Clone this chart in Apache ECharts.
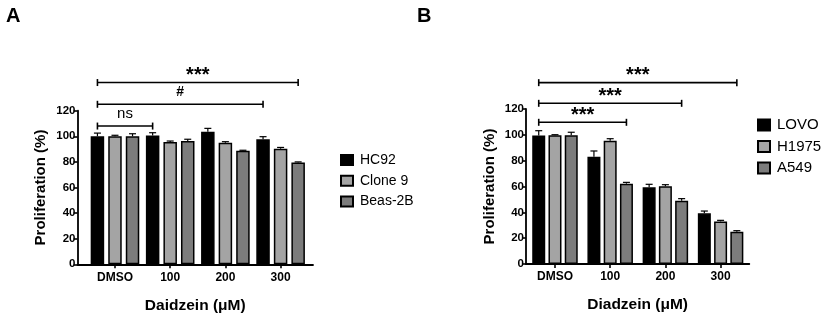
<!DOCTYPE html>
<html>
<head>
<meta charset="utf-8">
<script src="https://cdn.jsdelivr.net/npm/echarts@6/dist/echarts.min.js"></script>
<style>
html,body{margin:0;padding:0;background:#fff;}
#chart{width:824px;height:319px;}
</style>
</head>
<body>
<div id="chart"></div>
<script>
// ---------- Panel A data ----------
const categoriesA = ['DMSO', '100', '200', '300'];
const namesA = ['HC92', 'Clone 9', 'Beas-2B'];
const hc92 = [100, 100.7, 103.6, 97.6];
const hc92Err = [2.5, 2.1, 2.6, 2.1];
const clone9 = [100, 95.5, 95, 90.3];
const clone9Err = [0.8, 0.8, 0.8, 1.0];
const beas2b = [100, 96.3, 88.7, 79.6];
const beas2bErr = [2.0, 1.4, 0.4, 0.4];
// brackets: [fromCategory, fromBar, toCategory, toBar, level]
const bracketsA = [[0, 0, 1, 0, 108], [0, 0, 3, 0, 125], [0, 0, 3, 2, 142]];
const bracketLabelsA = ['ns', '#', '***'];

// ---------- Panel B data ----------
const categoriesB = ['DMSO', '100', '200', '300'];
const namesB = ['LOVO', 'H1975', 'A549'];
const lovo = [99.4, 83.1, 59.4, 39.2];
const lovoErr = [3.8, 4.4, 2.3, 1.8];
const h1975 = [99.6, 95.5, 60.1, 33.0];
const h1975Err = [0.5, 1.5, 1.3, 0.8];
const a549 = [99.6, 62.2, 49.0, 25.0];
const a549Err = [2.4, 1.0, 1.6, 0.8];
const bracketsB = [[0, 0, 1, 2, 109.7], [0, 0, 2, 2, 124.4], [0, 0, 3, 2, 140.4]];
const bracketLabelsB = ['***', '***', '***'];

const yTicks = [0, 20, 40, 60, 80, 100, 120];

const FONT = 'Arial, "Liberation Sans", Helvetica, sans-serif';
const colors = ['#000000', '#a4a4a4', '#7c7c7c'];

const chart = echarts.init(document.getElementById('chart'), null, {renderer: 'canvas'});

function toPairs(vals) { return vals.map((v, i) => [i, v]); }

function barSeries(name, vals, color, axisIdx, barW, gap) {
  return {
    type: 'bar', name: name, xAxisIndex: axisIdx, yAxisIndex: axisIdx,
    data: toPairs(vals), barWidth: barW, barGap: gap,
    itemStyle: {color: color, borderColor: '#000', borderWidth: 1.5},
    emphasis: {disabled: true}, z: 2
  };
}

function errSeries(vals, errs, barIdx, axisIdx, step) {
  return {
    type: 'custom', xAxisIndex: axisIdx, yAxisIndex: axisIdx, clip: false, z: 3,
    data: vals.map((v, i) => [i, v, errs[i]]),
    renderItem: function (params, api) {
      const c = api.value(0), v = api.value(1), e = api.value(2);
      const p0 = api.coord([c, v]);
      const p1 = api.coord([c, v + e]);
      const x = p0[0] + (barIdx - 1) * step;
      return {
        type: 'group',
        children: [
          {type: 'line', shape: {x1: x, y1: p0[1], x2: x, y2: p1[1]}, style: {stroke: '#000', lineWidth: 1.2}},
          {type: 'line', shape: {x1: x - 3.5, y1: p1[1], x2: x + 3.5, y2: p1[1]}, style: {stroke: '#000', lineWidth: 1.2}}
        ]
      };
    }
  };
}

function bracketSeries(brackets, labels, axisIdx, step) {
  return {
    type: 'custom', xAxisIndex: axisIdx, yAxisIndex: axisIdx, clip: false, z: 4,
    data: brackets,
    renderItem: function (params, api) {
      const x1 = api.coord([api.value(0), 0])[0] + (api.value(1) - 1) * step;
      const x2 = api.coord([api.value(2), 0])[0] + (api.value(3) - 1) * step;
      const y = api.coord([0, api.value(4)])[1];
      const lab = labels[params.dataIndex];
      const isStar = lab === '***';
      return {
        type: 'group',
        children: [
          {type: 'line', shape: {x1: x1, y1: y, x2: x2, y2: y}, style: {stroke: '#000', lineWidth: 1.6}},
          {type: 'line', shape: {x1: x1, y1: y - 3.5, x2: x1, y2: y + 3.5}, style: {stroke: '#000', lineWidth: 1.6}},
          {type: 'line', shape: {x1: x2, y1: y - 3.5, x2: x2, y2: y + 3.5}, style: {stroke: '#000', lineWidth: 1.6}},
          {type: 'text', x: (x1 + x2) / 2, y: y + (isStar ? 3 : -5),
            style: {text: lab, fill: '#000', align: 'center', verticalAlign: 'bottom',
              font: (isStar ? 'bold 20px ' : (lab === '#' ? 'bold 14px ' : '15px ')) + FONT}}
        ]
      };
    }
  };
}

function xAxisDef(gridIdx, cats, min, max, title) {
  return {
    type: 'value', gridIndex: gridIdx, min: min, max: max,
    name: title, nameLocation: 'middle', nameGap: 33,
    nameTextStyle: {fontFamily: FONT, fontWeight: 'bold', fontSize: 15.5, color: '#000'},
    axisLine: {show: true, onZero: false, lineStyle: {color: '#000', width: 1.8}},
    axisTick: {show: true, customValues: [0, 1, 2, 3], length: 4, lineStyle: {color: '#000', width: 1.6}},
    axisLabel: {customValues: [0, 1, 2, 3], formatter: v => cats[Math.round(v)], margin: 7,
      fontFamily: FONT, fontWeight: 'bold', fontSize: 12, color: '#000'},
    splitLine: {show: false}
  };
}

function yAxisDef(gridIdx) {
  return {
    type: 'value', gridIndex: gridIdx, min: yTicks[0], max: yTicks[yTicks.length - 1], interval: 20,
    name: 'Proliferation (%)', nameLocation: 'middle', nameGap: 29,
    nameTextStyle: {fontFamily: FONT, fontWeight: 'bold', fontSize: 15, color: '#000'},
    axisLine: {show: true, onZero: false, lineStyle: {color: '#000', width: 1.8}},
    axisTick: {show: true, length: 4, lineStyle: {color: '#000', width: 1.6}},
    axisLabel: {margin: 2, fontFamily: FONT, fontWeight: 'bold', fontSize: 11.5, color: '#000'},
    splitLine: {show: false}
  };
}

const stepA = 13.5 * 1.3;
const stepB = 13 * 1.25;

const option = {
  animation: false,
  backgroundColor: '#fff',
  title: [
    {text: 'A', left: 6, top: 6, padding: 0, textStyle: {fontFamily: FONT, fontWeight: 'bold', fontSize: 20, color: '#000'}},
    {text: 'B', left: 417, top: 6, padding: 0, textStyle: {fontFamily: FONT, fontWeight: 'bold', fontSize: 20, color: '#000'}}
  ],
  grid: [
    {left: 77.5, top: 110.7, width: 235.5, height: 153.6},
    {left: 526, top: 109, width: 223.3, height: 155}
  ],
  xAxis: [
    xAxisDef(0, categoriesA, -0.679, 3.587, 'Daidzein (\u03bcM)'),
    xAxisDef(1, categoriesB, -0.525, 3.52, 'Diadzein (\u03bcM)')
  ],
  yAxis: [yAxisDef(0), yAxisDef(1)],
  legend: [
    {data: namesA, orient: 'vertical', left: 340, top: 153, padding: 0, itemWidth: 12, itemHeight: 10, itemGap: 6.7,
      icon: 'rect', textStyle: {fontFamily: FONT, fontSize: 14, color: '#000', padding: [0, 0, 0, 2]},
      selectedMode: false},
    {data: namesB, orient: 'vertical', left: 757, top: 117.5, padding: 0, itemWidth: 12, itemHeight: 11, itemGap: 6.5,
      icon: 'rect', textStyle: {fontFamily: FONT, fontSize: 15, color: '#000', padding: [0, 0, 0, 2]},
      selectedMode: false}
  ],
  series: [
    barSeries(namesA[0], hc92, colors[0], 0, 13.5, '30%'),
    barSeries(namesA[1], clone9, colors[1], 0, 13.5, '30%'),
    barSeries(namesA[2], beas2b, colors[2], 0, 13.5, '30%'),
    errSeries(hc92, hc92Err, 0, 0, stepA),
    errSeries(clone9, clone9Err, 1, 0, stepA),
    errSeries(beas2b, beas2bErr, 2, 0, stepA),
    bracketSeries(bracketsA, bracketLabelsA, 0, stepA),
    barSeries(namesB[0], lovo, colors[0], 1, 13, '25%'),
    barSeries(namesB[1], h1975, colors[1], 1, 13, '25%'),
    barSeries(namesB[2], a549, colors[2], 1, 13, '25%'),
    errSeries(lovo, lovoErr, 0, 1, stepB),
    errSeries(h1975, h1975Err, 1, 1, stepB),
    errSeries(a549, a549Err, 2, 1, stepB),
    bracketSeries(bracketsB, bracketLabelsB, 1, stepB)
  ]
};
chart.setOption(option);
</script>
</body>
</html>
